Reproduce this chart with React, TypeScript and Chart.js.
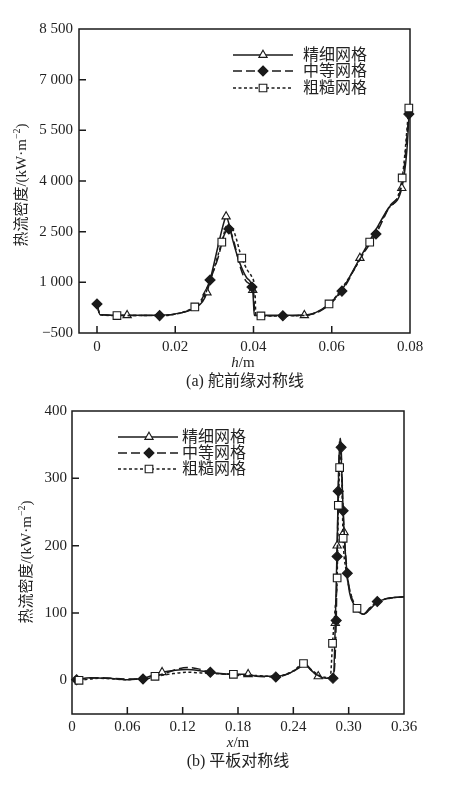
import React, { useEffect, useRef } from "react";
import { Chart, registerables } from "chart.js";

Chart.register(...registerables);

// ---------------- data ----------------
const SERIES_NAMES = ["精细网格", "中等网格", "粗糙网格"];

// (a) 舵前缘对称线
const aFineX = [0, 0.0008, 0.0077, 0.016, 0.022, 0.025, 0.027, 0.0281, 0.0295, 0.0315, 0.0325, 0.033, 0.034, 0.0347, 0.0365, 0.0383, 0.0398, 0.04, 0.0402, 0.053, 0.056, 0.0593, 0.0625, 0.0672, 0.071, 0.0745, 0.0779, 0.0792, 0.0798];
const aFineY = [350, 40, 25, 25, 110, 240, 430, 700, 1350, 2350, 2800, 2950, 2600, 2250, 1570, 1130, 770, 400, 25, 25, 110, 360, 760, 1720, 2500, 3200, 3790, 4900, 6050];
const aFineM = [0, 0, 1, 0, 0, 0, 0, 1, 0, 0, 0, 1, 0, 0, 0, 0, 1, 0, 0, 1, 0, 0, 0, 1, 0, 0, 1, 0, 0];

const aMedX = [0, 0.0008, 0.016, 0.022, 0.025, 0.027, 0.0289, 0.031, 0.0325, 0.0337, 0.035, 0.0365, 0.038, 0.0396, 0.0401, 0.0403, 0.0475, 0.053, 0.057, 0.0626, 0.067, 0.0713, 0.0748, 0.0781, 0.0797];
const aMedY = [360, 40, 15, 110, 250, 550, 1070, 1750, 2400, 2580, 2200, 1500, 1050, 860, 600, 15, 10, 30, 150, 740, 1650, 2430, 3250, 4000, 5980];
const aMedM = [1, 0, 1, 0, 0, 0, 1, 0, 0, 1, 0, 0, 0, 1, 0, 0, 1, 0, 0, 1, 0, 1, 0, 0, 1];

const aCoarseX = [0, 0.0008, 0.0051, 0.016, 0.025, 0.027, 0.0295, 0.0319, 0.0333, 0.035, 0.037, 0.0385, 0.0396, 0.0404, 0.0406, 0.0419, 0.053, 0.0593, 0.0645, 0.0697, 0.074, 0.078, 0.0797];
const aCoarseY = [350, 40, 15, 15, 270, 480, 1250, 2190, 2700, 2500, 1720, 1350, 1150, 700, 15, 5, 20, 360, 1150, 2190, 3100, 4090, 6160];
const aCoarseM = [0, 0, 1, 0, 1, 0, 0, 1, 0, 0, 1, 0, 0, 0, 0, 1, 0, 1, 0, 1, 0, 1, 1];

const aXTicks = [0, 0.02, 0.04, 0.06, 0.08];
const aXLabels = ["0", "0.02", "0.04", "0.06", "0.08"];
const aYTicks = [-500, 1000, 2500, 4000, 5500, 7000, 8500];
const aYLabels = ["\u2212500", "1 000", "2 500", "4 000", "5 500", "7 000", "8 500"];

// (b) 平板对称线
const bFineX = [0.003, 0.02, 0.04, 0.06, 0.077, 0.0977, 0.112, 0.125, 0.14, 0.155, 0.175, 0.191, 0.2, 0.221, 0.235, 0.245, 0.252, 0.26, 0.267, 0.276, 0.2835, 0.2855, 0.2875, 0.289, 0.2905, 0.292, 0.2935, 0.295, 0.2975, 0.301, 0.306, 0.311, 0.316, 0.322, 0.33, 0.34, 0.36];
const bFineY = [1, 4, 3, 1, 3, 12, 15, 16, 14, 11, 9, 9, 6, 6, 10, 18, 23, 14, 6, 3, 5, 85, 200, 300, 358, 330, 270, 220, 170, 130, 112, 102, 98, 104, 115, 121, 124];
const bFineM = [0, 0, 0, 0, 0, 1, 0, 0, 0, 0, 0, 1, 0, 0, 0, 0, 0, 0, 1, 0, 0, 1, 1, 0, 0, 0, 0, 1, 0, 0, 0, 0, 0, 0, 0, 0, 0];

const bMedX = [0.005, 0.03, 0.06, 0.077, 0.1, 0.115, 0.125, 0.137, 0.15, 0.175, 0.2, 0.221, 0.238, 0.248, 0.253, 0.262, 0.272, 0.283, 0.2865, 0.2875, 0.2887, 0.2905, 0.2918, 0.294, 0.2985, 0.304, 0.31, 0.316, 0.323, 0.331, 0.345, 0.36];
const bMedY = [1, 4, 2, 2, 10, 17, 19, 17, 12, 8, 6, 5, 12, 20, 23, 12, 4, 3, 89, 184, 281, 360, 346, 252, 159, 120, 104, 98, 108, 117, 122, 124];
const bMedM = [1, 0, 0, 1, 0, 0, 0, 0, 1, 0, 0, 1, 0, 0, 0, 0, 0, 1, 1, 1, 1, 0, 1, 1, 1, 0, 0, 0, 0, 1, 0, 0];

const bCoarseX = [0.0076, 0.03, 0.06, 0.09, 0.11, 0.125, 0.14, 0.155, 0.175, 0.2, 0.221, 0.24, 0.251, 0.26, 0.27, 0.28, 0.2825, 0.2855, 0.2875, 0.2888, 0.2902, 0.2912, 0.2925, 0.294, 0.297, 0.303, 0.309, 0.316, 0.325, 0.34, 0.36];
const bCoarseY = [0, 3, 1, 6, 10, 12, 11, 10, 9, 7, 6, 14, 25, 15, 6, 4, 55, 110, 152, 260, 316, 350, 300, 211, 165, 125, 107, 98, 110, 121, 124];
const bCoarseM = [1, 0, 0, 1, 0, 0, 0, 0, 1, 0, 0, 0, 1, 0, 0, 0, 1, 0, 1, 1, 1, 0, 0, 1, 0, 0, 1, 0, 0, 0, 0];

const bXTicks = [0, 0.06, 0.12, 0.18, 0.24, 0.3, 0.36];
const bXLabels = ["0", "0.06", "0.12", "0.18", "0.24", "0.30", "0.36"];
const bYTicks = [0, 100, 200, 300, 400];
const bYLabels = ["0", "100", "200", "300", "400"];

// ---------------- styles ----------------
const SERIF = "'Liberation Serif', 'Noto Sans CJK SC', serif";
const INK = "#1a1a1a";
const STYLES = [
  { dash: [] as number[], point: "triangle", r: 4.8, fill: "#ffffff", order: 3 },
  { dash: [9, 4], point: "rectRot", r: 5, fill: INK, order: 2 },
  { dash: [3, 2.5], point: "rect", r: 5.4, fill: "#ffffff", order: 1 },
];

function makeDataset(xs: number[], ys: number[], marks: number[], i: number) {
  const s = STYLES[i];
  return {
    label: SERIES_NAMES[i],
    data: xs.map((x, k) => ({ x, y: ys[k] })),
    showLine: true,
    borderColor: INK,
    borderWidth: 1.5,
    borderDash: s.dash,
    pointStyle: s.point,
    pointRadius: marks.map((m) => (m ? s.r : 0)),
    pointHoverRadius: marks.map((m) => (m ? s.r : 0)),
    pointBackgroundColor: s.fill,
    pointBorderColor: INK,
    pointBorderWidth: 1.1,
    cubicInterpolationMode: "monotone",
    clip: false,
    order: s.order,
  };
}

function drawMarker(ctx: CanvasRenderingContext2D, i: number, x: number, y: number) {
  const s = STYLES[i];
  ctx.save();
  ctx.setLineDash([]);
  ctx.lineWidth = 1.1;
  ctx.strokeStyle = INK;
  ctx.fillStyle = s.fill;
  ctx.beginPath();
  const r = s.r;
  if (i === 0) {
    ctx.moveTo(x, y - r);
    ctx.lineTo(x + r * 0.866, y + r * 0.5);
    ctx.lineTo(x - r * 0.866, y + r * 0.5);
    ctx.closePath();
  } else if (i === 1) {
    ctx.moveTo(x, y - r);
    ctx.lineTo(x + r, y);
    ctx.lineTo(x, y + r);
    ctx.lineTo(x - r, y);
    ctx.closePath();
  } else {
    const h = r * 0.7071;
    ctx.rect(x - h, y - h, 2 * h, 2 * h);
  }
  ctx.fill();
  ctx.stroke();
  ctx.restore();
}

type Cfg = {
  height: number;
  pad: { top: number; right: number };
  yWidth: number;
  xHeight: number;
  xMin: number;
  xMax: number;
  yMin: number;
  yMax: number;
  xTicks: number[];
  xLabels: string[];
  yTicks: number[];
  yLabels: string[];
  xPad: number;
  yPad: number;
  legend: { x0: number; x1: number; xm: number; xt: number; ys: number[] };
  yTitle: { x: number; y: number };
  xTitle: { x: number; y: number; v: string };
  caption: { x: number; y: number; text: string };
  datasets: any[];
};

function decorPlugin(cfg: Cfg) {
  return {
    id: "decor",
    beforeDatasetsDraw(chart: any) {
      const ctx: CanvasRenderingContext2D = chart.ctx;
      const a = chart.chartArea;
      ctx.save();
      ctx.strokeStyle = INK;
      ctx.lineWidth = 1.5;
      ctx.setLineDash([]);
      ctx.strokeRect(a.left, a.top, a.right - a.left, a.bottom - a.top);
      ctx.beginPath();
      const xs = chart.scales.x;
      const ys = chart.scales.y;
      cfg.xTicks.forEach((v) => {
        const px = xs.getPixelForValue(v);
        if (px > a.left + 1 && px < a.right - 1) {
          ctx.moveTo(px, a.bottom);
          ctx.lineTo(px, a.bottom - 7);
        }
      });
      cfg.yTicks.forEach((v) => {
        const py = ys.getPixelForValue(v);
        if (py > a.top + 1 && py < a.bottom - 1) {
          ctx.moveTo(a.left, py);
          ctx.lineTo(a.left + 7, py);
        }
      });
      ctx.stroke();
      ctx.restore();
    },
    afterDraw(chart: any) {
      const ctx: CanvasRenderingContext2D = chart.ctx;
      ctx.save();
      // legend
      const L = cfg.legend;
      ctx.textBaseline = "middle";
      ctx.textAlign = "left";
      L.ys.forEach((y, i) => {
        ctx.strokeStyle = INK;
        ctx.lineWidth = 1.5;
        ctx.setLineDash(STYLES[i].dash);
        ctx.beginPath();
        ctx.moveTo(L.x0, y);
        ctx.lineTo(L.x1, y);
        ctx.stroke();
        ctx.setLineDash([]);
        drawMarker(ctx, i, L.xm, y);
        ctx.fillStyle = "#222";
        ctx.font = `16px ${SERIF}`;
        ctx.fillText(SERIES_NAMES[i], L.xt, y + 1);
      });
      ctx.fillStyle = "#222";
      // y title
      ctx.save();
      ctx.translate(cfg.yTitle.x, cfg.yTitle.y);
      ctx.rotate(-Math.PI / 2);
      const main = "热流密度/(kW·m";
      const sup = "\u22122";
      const end = ")";
      ctx.font = `15px ${SERIF}`;
      const w1 = ctx.measureText(main).width;
      const w3 = ctx.measureText(end).width;
      ctx.font = `10px ${SERIF}`;
      const w2 = ctx.measureText(sup).width;
      let x = -(w1 + w2 + w3) / 2;
      ctx.textBaseline = "middle";
      ctx.font = `15px ${SERIF}`;
      ctx.fillText(main, x, 0);
      x += w1;
      ctx.font = `10px ${SERIF}`;
      ctx.fillText(sup, x, -5);
      x += w2;
      ctx.font = `15px ${SERIF}`;
      ctx.fillText(end, x, 0);
      ctx.restore();
      // x title
      ctx.textBaseline = "middle";
      ctx.font = `italic 15px ${SERIF}`;
      const wv = ctx.measureText(cfg.xTitle.v).width;
      ctx.font = `15px ${SERIF}`;
      const wu = ctx.measureText("/m").width;
      let tx = cfg.xTitle.x - (wv + wu) / 2;
      ctx.font = `italic 15px ${SERIF}`;
      ctx.fillText(cfg.xTitle.v, tx, cfg.xTitle.y);
      tx += wv;
      ctx.font = `15px ${SERIF}`;
      ctx.fillText("/m", tx, cfg.xTitle.y);
      // caption
      ctx.textAlign = "center";
      ctx.font = `16px ${SERIF}`;
      ctx.fillText(cfg.caption.text, cfg.caption.x, cfg.caption.y);
      ctx.restore();
    },
  };
}

function buildConfig(cfg: Cfg): any {
  const tickFont = { family: SERIF, size: 15 };
  return {
    type: "scatter",
    data: { datasets: cfg.datasets },
    options: {
      responsive: false,
      animation: false,
      events: [],
      layout: { padding: { left: 0, top: cfg.pad.top, right: cfg.pad.right, bottom: 0 } },
      plugins: { legend: { display: false }, tooltip: { enabled: false }, title: { display: false } },
      scales: {
        x: {
          type: "linear",
          min: cfg.xMin,
          max: cfg.xMax,
          grid: { display: false, drawTicks: false },
          border: { display: false },
          afterBuildTicks: (s: any) => {
            s.ticks = cfg.xTicks.map((v) => ({ value: v }));
          },
          afterFit: (s: any) => {
            s.height = cfg.xHeight;
          },
          ticks: {
            font: tickFont,
            color: "#222",
            padding: cfg.xPad,
            maxRotation: 0,
            autoSkip: false,
            callback: (v: number) => {
              const k = cfg.xTicks.findIndex((t) => Math.abs(t - v) < 1e-9);
              return k >= 0 ? cfg.xLabels[k] : "";
            },
          },
        },
        y: {
          type: "linear",
          min: cfg.yMin,
          max: cfg.yMax,
          grid: { display: false, drawTicks: false },
          border: { display: false },
          afterBuildTicks: (s: any) => {
            s.ticks = cfg.yTicks.map((v) => ({ value: v }));
          },
          afterFit: (s: any) => {
            s.width = cfg.yWidth;
          },
          ticks: {
            font: tickFont,
            color: "#222",
            padding: cfg.yPad,
            autoSkip: false,
            callback: (v: number) => {
              const k = cfg.yTicks.findIndex((t) => Math.abs(t - v) < 1e-9);
              return k >= 0 ? cfg.yLabels[k] : "";
            },
          },
        },
      },
    },
    plugins: [decorPlugin(cfg)],
  };
}

const cfgA: Cfg = {
  height: 395,
  pad: { top: 29, right: 55 },
  yWidth: 79,
  xHeight: 62,
  xMin: -0.0046,
  xMax: 0.08,
  yMin: -500,
  yMax: 8500,
  xTicks: aXTicks,
  xLabels: aXLabels,
  yTicks: aYTicks,
  yLabels: aYLabels,
  xPad: 5,
  yPad: 6,
  legend: { x0: 233, x1: 293, xm: 263, xt: 303, ys: [55, 71, 88] },
  yTitle: { x: 22, y: 185 },
  xTitle: { x: 243, y: 363, v: "h" },
  caption: { x: 245, y: 382, text: "(a) 舵前缘对称线" },
  datasets: [
    makeDataset(aFineX, aFineY, aFineM, 0),
    makeDataset(aMedX, aMedY, aMedM, 1),
    makeDataset(aCoarseX, aCoarseY, aCoarseM, 2),
  ],
};

const cfgB: Cfg = {
  height: 393,
  pad: { top: 16, right: 61 },
  yWidth: 72,
  xHeight: 74,
  xMin: 0,
  xMax: 0.36,
  yMin: -50,
  yMax: 400,
  xTicks: bXTicks,
  xLabels: bXLabels,
  yTicks: bYTicks,
  yLabels: bYLabels,
  xPad: 4,
  yPad: 5,
  legend: { x0: 118, x1: 178, xm: 149, xt: 182, ys: [42, 58, 74] },
  yTitle: { x: 27, y: 167 },
  xTitle: { x: 238, y: 348, v: "x" },
  caption: { x: 238, y: 367, text: "(b) 平板对称线" },
  datasets: [
    makeDataset(bFineX, bFineY, bFineM, 0),
    makeDataset(bMedX, bMedY, bMedM, 1),
    makeDataset(bCoarseX, bCoarseY, bCoarseM, 2),
  ],
};

function ChartCanvas({ cfg, top }: { cfg: Cfg; top: number }) {
  const ref = useRef<HTMLCanvasElement>(null);
  useEffect(() => {
    const chart = new Chart(ref.current as HTMLCanvasElement, buildConfig(cfg));
    return () => chart.destroy();
  }, []);
  return (
    <canvas
      ref={ref}
      width={465}
      height={cfg.height}
      style={{ position: "absolute", left: 0, top, width: 465, height: cfg.height }}
    />
  );
}

export default function App() {
  return (
    <div style={{ position: "absolute", left: 0, top: 0, width: 465, height: 788, background: "#fff" }}>
      <ChartCanvas cfg={cfgA} top={0} />
      <ChartCanvas cfg={cfgB} top={395} />
    </div>
  );
}
